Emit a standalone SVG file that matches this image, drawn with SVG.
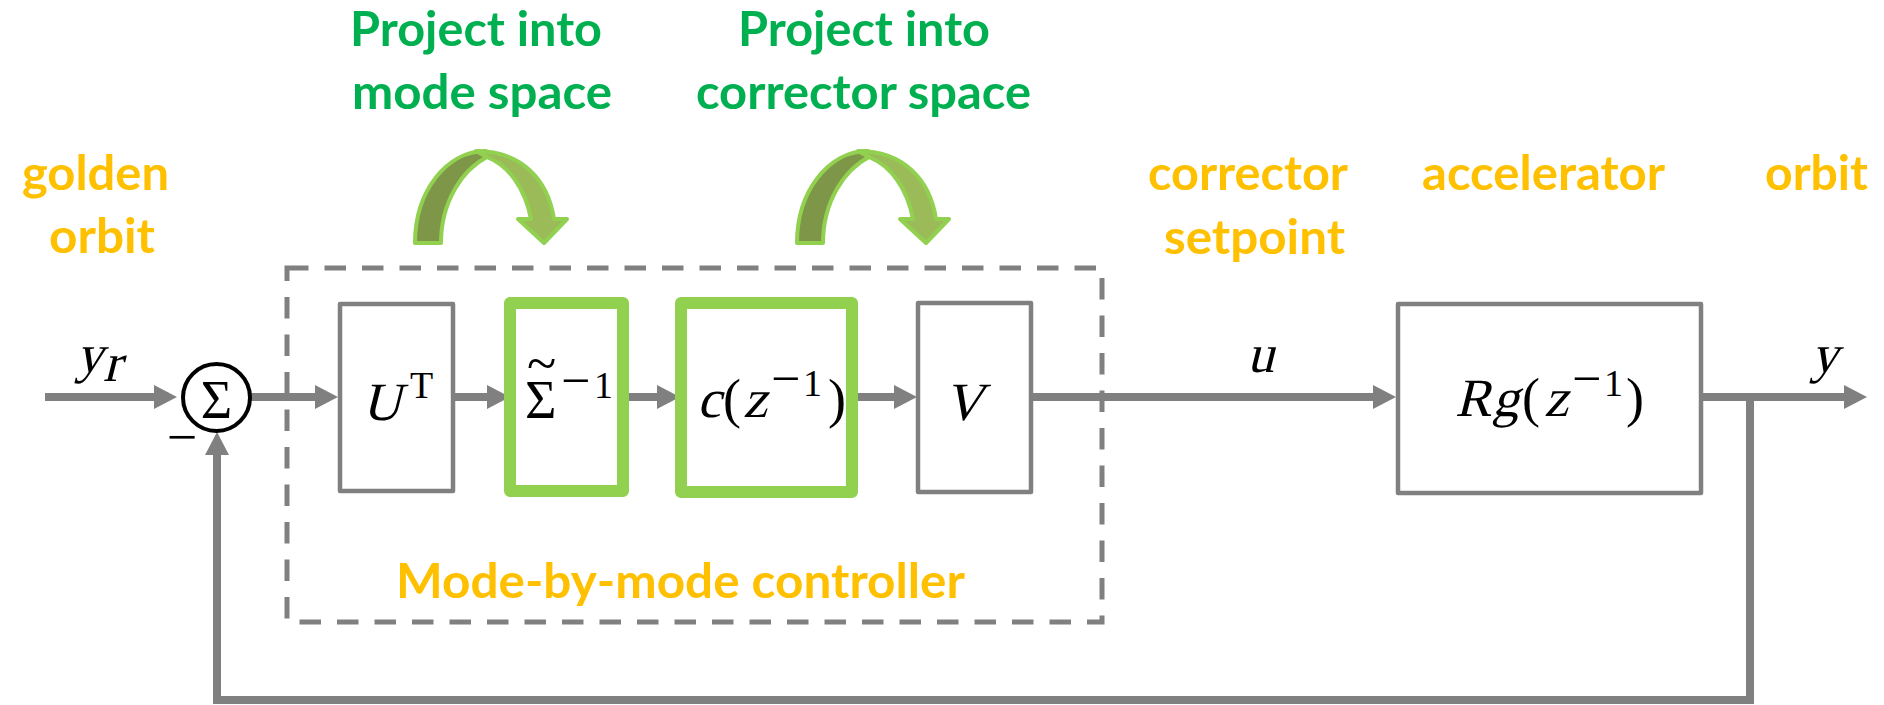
<svg xmlns="http://www.w3.org/2000/svg" xmlns:xlink="http://www.w3.org/1999/xlink" width="1884" height="705" viewBox="0 0 1884 705">
  <style>
    .lbl { font-family: Lato, "Open Sans", "Liberation Sans", sans-serif; font-weight: 700; font-size: 48px; }
    .org { fill: #FFC000; }
    .grn { fill: #00B050; }
    .math { font-family: "Liberation Serif", "DejaVu Serif", serif; font-size: 54px; fill: #000; font-style: normal; }
    .sup { font-size: 38px; }
    .box { fill: #fff; stroke: #808080; stroke-width: 4.5; stroke-linejoin: round; }
    .gbox { fill: #fff; stroke: #92D050; stroke-width: 12; stroke-linejoin: round; }
    .wire { fill: none; stroke: #808080; stroke-width: 8; }
    .dash { fill: none; stroke: #808080; stroke-width: 5; stroke-dasharray: 21.5 16; }
    .turn-back { fill: #7E9647; stroke: #92D050; stroke-width: 4; stroke-linejoin: round; }
    .turn-front { fill: #9BBB59; stroke: #92D050; stroke-width: 4; stroke-linejoin: round; }
  </style>
  <defs>
    <marker id="head" markerUnits="userSpaceOnUse" viewBox="0 0 23 24" markerWidth="23" markerHeight="24" refX="2" refY="12" orient="auto">
      <path d="M0,0 L23,12 L0,24 Z" fill="#808080"/>
    </marker>
    <!-- curved "projection" arrow: back band on the left, front band ending in a head -->
    <g id="turn">
      <path class="turn-back" d="M415,243 C415,192 446,151 486,151 L487,157 C462,170 441,202 441,243 Z"/>
      <path class="turn-front" d="M476,151 C522,151 548,180 554,219 L567,219 L544,243 L518,219 L531,219 C525,188 509,166 487,157 Z"/>
    </g>
  </defs>

  <rect width="1884" height="705" fill="#fff"/>

  <!-- annotations -->
  <g id="labels">
    <text class="lbl org" x="22" y="190" textLength="147" lengthAdjust="spacingAndGlyphs">golden</text>
    <text class="lbl org" x="49" y="253" textLength="106" lengthAdjust="spacingAndGlyphs">orbit</text>
    <text class="lbl grn" x="350" y="46" textLength="252" lengthAdjust="spacingAndGlyphs">Project into</text>
    <text class="lbl grn" x="352" y="109" textLength="260" lengthAdjust="spacingAndGlyphs">mode space</text>
    <text class="lbl grn" x="738" y="46" textLength="252" lengthAdjust="spacingAndGlyphs">Project into</text>
    <text class="lbl grn" x="696" y="109" textLength="335" lengthAdjust="spacingAndGlyphs">corrector space</text>
    <text class="lbl org" x="1148" y="190" textLength="200" lengthAdjust="spacingAndGlyphs">corrector</text>
    <text class="lbl org" x="1164" y="254" textLength="181" lengthAdjust="spacingAndGlyphs">setpoint</text>
    <text class="lbl org" x="1422" y="190" textLength="243" lengthAdjust="spacingAndGlyphs">accelerator</text>
    <text class="lbl org" x="1765" y="190" textLength="103" lengthAdjust="spacingAndGlyphs">orbit</text>
  </g>

  <!-- projection arrows -->
  <g id="turn-mode"><use xlink:href="#turn"/></g>
  <g id="turn-corrector"><use xlink:href="#turn" transform="translate(382,0)"/></g>

  <!-- controller boundary -->
  <g id="controller">
    <rect class="dash" x="287" y="268" width="815" height="354"/>
    <text class="lbl org" x="396" y="598" textLength="569" lengthAdjust="spacingAndGlyphs">Mode-by-mode controller</text>
  </g>

  <!-- signal lines -->
  <g id="connectors">
    <path class="wire" d="M45,397 H156" marker-end="url(#head)"/>
    <path class="wire" d="M250,397 H317" marker-end="url(#head)"/>
    <path class="wire" d="M455,397 H489" marker-end="url(#head)"/>
    <path class="wire" d="M629,397 H659" marker-end="url(#head)"/>
    <path class="wire" d="M858,397 H896" marker-end="url(#head)"/>
    <path class="wire" d="M1033,397 H1375" marker-end="url(#head)"/>
    <path class="wire" d="M1701,397 H1846" marker-end="url(#head)"/>
    <path class="wire" d="M1750,394 V700 H217 V453" marker-end="url(#head)"/>
  </g>

  <!-- summing junction -->
  <g id="sum">
    <circle cx="216.5" cy="397.5" r="33.5" fill="#fff" stroke="#000" stroke-width="4"/>
    <text class="math" x="216.5" y="418" font-size="60" text-anchor="middle">Σ</text>
    <text class="math" x="182" y="455" font-size="34" text-anchor="middle">−</text>
  </g>

  <!-- math-italic letters are slanted upright serif glyphs -->
  <g id="block-ut">
    <rect class="box" x="340" y="304" width="113" height="187"/>
    <text class="math" font-size="52" transform="translate(362,420) skewX(-14)">U</text>
    <text class="math sup" x="410" y="398" font-size="36">T</text>
  </g>

  <g id="block-sigma">
    <rect class="gbox" x="510" y="303" width="113" height="188"/>
    <text class="math" font-size="48"><tspan x="525" y="418">Σ</tspan><tspan x="527" y="382">~</tspan></text>
    <text class="math"><tspan x="561" y="398" font-size="52">−</tspan><tspan class="sup" x="594" y="398">1</tspan></text>
  </g>

  <g id="block-c">
    <rect class="gbox" x="681" y="303" width="171" height="189"/>
    <text class="math" transform="translate(697,417) skewX(-14)">c</text>
    <text class="math" x="723" y="417">(</text>
    <text class="math" transform="translate(743,417) skewX(-14)">z</text>
    <text class="math"><tspan x="771" y="396" font-size="52">−</tspan><tspan class="sup" x="803" y="396">1</tspan></text>
    <text class="math" x="828" y="417">)</text>
  </g>

  <g id="block-v">
    <rect class="box" x="918" y="303" width="113" height="189"/>
    <text class="math" font-size="50" transform="translate(944,420) skewX(-14)">V</text>
  </g>

  <g id="block-plant">
    <rect class="box" x="1398" y="304" width="303" height="189"/>
    <text class="math" font-size="50" transform="translate(1455,416) skewX(-14)">R</text>
    <text class="math" font-size="52" transform="translate(1492,416) skewX(-14)">g</text>
    <text class="math" x="1522" y="416">(</text>
    <text class="math" transform="translate(1544,416) skewX(-14)">z</text>
    <text class="math"><tspan x="1572" y="396" font-size="52">−</tspan><tspan class="sup" x="1604" y="396">1</tspan></text>
    <text class="math" x="1626" y="416">)</text>
  </g>

  <!-- signal names -->
  <g id="signals">
    <text class="math" font-size="50" transform="translate(76,372) skewX(-14)">y</text>
    <text class="math" font-size="32" transform="translate(103,381) skewX(-14)">r</text>
    <text class="math" transform="translate(1247,372) skewX(-14)">u</text>
    <text class="math" font-size="50" transform="translate(1811,372) skewX(-14)">y</text>
  </g>
</svg>
